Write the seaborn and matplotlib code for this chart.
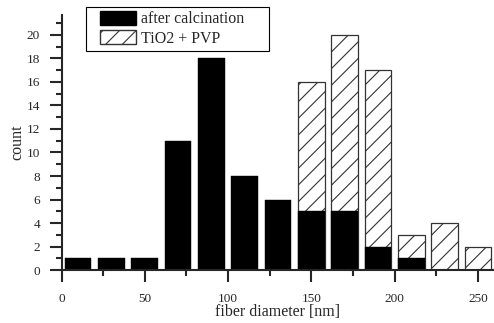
import pandas as pd
import seaborn as sns
import matplotlib.pyplot as plt
from matplotlib.patches import Patch, Rectangle
from matplotlib.legend_handler import HandlerPatch

# bin centres (nm) and counts
centers = [10, 30, 50, 70, 90, 110, 130, 150, 170, 190, 210, 230, 250]
calcined = [1, 1, 1, 11, 18, 8, 6, 5, 5, 2, 1, 0, 0]
tio2_pvp = [0, 0, 0, 0, 0, 0, 0, 16, 20, 17, 3, 4, 2]
bin_edges = list(range(0, 261, 20))

df = pd.DataFrame({'diameter': centers, 'calcined': calcined, 'tio2_pvp': tio2_pvp})

sns.set_style('ticks')
plt.rcParams['font.family'] = ['Liberation Serif', 'DejaVu Serif']
plt.rcParams['hatch.linewidth'] = 0.8

fig = plt.figure(figsize=(4.94, 3.23), dpi=100)
ax = fig.add_axes([0.1245, 0.164, 0.8765, 0.7896])

sns.histplot(data=df, x='diameter', weights='tio2_pvp', bins=bin_edges, shrink=0.8,
             color='white', edgecolor='#333333', linewidth=0.9,
             hatch='//', alpha=1, ax=ax)
sns.histplot(data=df, x='diameter', weights='calcined', bins=bin_edges, shrink=0.8,
             color='black', edgecolor='black', linewidth=0.3,
             alpha=1, ax=ax)

ax.set_xlim(0, 260)
ax.set_ylim(0, 21.7)
ax.set_xticks([0, 50, 100, 150, 200, 250])
ax.set_xticks([25, 75, 125, 175, 225], minor=True)
ax.set_yticks(range(0, 21, 2))
ax.set_yticks(range(1, 22, 2), minor=True)
ax.tick_params(which='major', length=8.5, width=1.5, direction='out', labelsize=9.5, pad=8)
ax.tick_params(which='minor', length=4.5, width=1.5, direction='out')
ax.tick_params(axis='y', pad=7)
for s in ['top', 'right']:
    ax.spines[s].set_visible(False)
for s in ['left', 'bottom']:
    ax.spines[s].set_linewidth(1.5)

ax.set_xlabel('fiber diameter [nm]', fontsize=11.5, labelpad=-1)
ax.set_ylabel('count', fontsize=11.5, labelpad=1)


# legend keys sit a bit in from the frame edge, like the original
def inset_patch(legend, orig_handle, xdescent, ydescent, width, height, fontsize):
    off = 7.0
    return Rectangle((-xdescent + off, -ydescent), width - off, height)


handles = [Patch(facecolor='black', edgecolor='black', label='after calcination'),
           Patch(facecolor='white', edgecolor='#333333', hatch='//', label='TiO2 + PVP')]
leg = ax.legend(handles=handles, loc='upper left', mode='expand',
                bbox_to_anchor=(0.0566, 1.031, 0.423, 0.0),
                handler_map={Patch: HandlerPatch(patch_func=inset_patch)},
                fontsize=11.5, handlelength=2.9, handleheight=0.95, handletextpad=0.32,
                borderpad=0.25, borderaxespad=0, labelspacing=0.18,
                fancybox=False, framealpha=1)
leg.get_frame().set_edgecolor('black')
leg.get_frame().set_linewidth(0.8)

fig.savefig('out.png', dpi=100)
